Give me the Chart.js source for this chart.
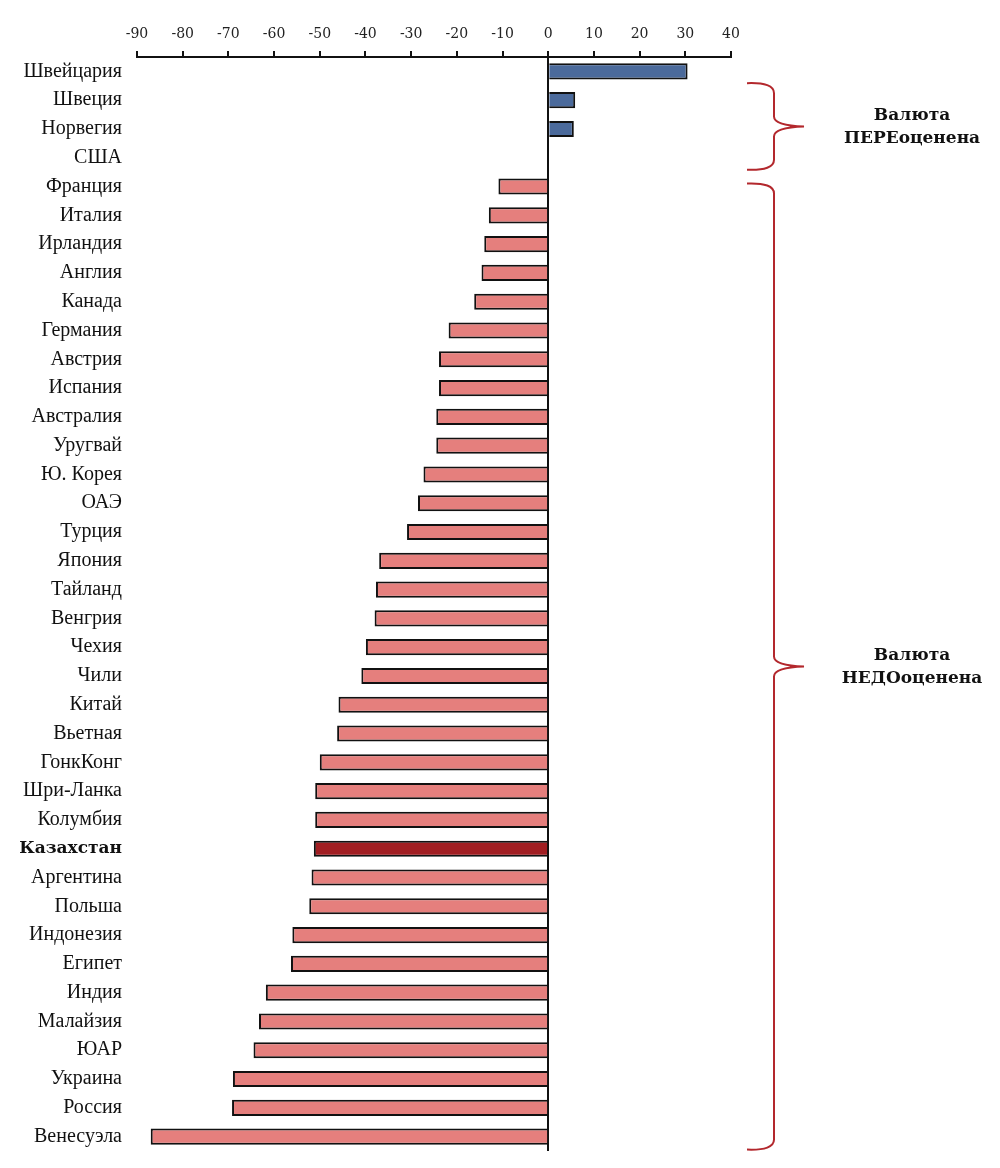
<!DOCTYPE html>
<html>
<head>
<meta charset="utf-8">
<script src="https://cdn.jsdelivr.net/npm/chart.js@4"></script>
<style>
  html, body { margin: 0; padding: 0; background: #fff; }
  #wrap { width: 1000px; height: 1168px; }
</style>
</head>
<body>
<div id="wrap"><canvas id="chart"></canvas></div>
<script>
// Data
const countries = [
    'Швейцария', 'Швеция', 'Норвегия', 'США', 'Франция', 'Италия', 'Ирландия',
    'Англия', 'Канада', 'Германия', 'Австрия', 'Испания', 'Австралия', 'Уругвай',
    'Ю. Корея', 'ОАЭ', 'Турция', 'Япония', 'Тайланд', 'Венгрия', 'Чехия', 'Чили',
    'Китай', 'Вьетная', 'ГонкКонг', 'Шри-Ланка', 'Колумбия', 'Казахстан',
    'Аргентина', 'Польша', 'Индонезия', 'Египет', 'Индия', 'Малайзия', 'ЮАР',
    'Украина', 'Россия', 'Венесуэла'
];
const valuation = [
    30.5, 5.9, 5.6, 0, -10.9, -13.0, -14.0,
    -14.6, -16.2, -21.8, -23.9, -23.9, -24.5, -24.5,
    -27.3, -28.5, -30.9, -37.0, -37.7, -38.0, -39.9, -40.9,
    -45.9, -46.2, -50.0, -51.0, -51.0, -51.3,
    -51.8, -52.3, -56.0, -56.3, -61.8, -63.3, -64.5,
    -69.0, -69.2, -87.0
];
const xTickValues = [-90, -80, -70, -60, -50, -40, -30, -20, -10, 0, 10, 20, 30, 40];
const highlight = 'Казахстан';

// bracket groups: first/last category index they cover
const groupLabels = [['Валюта', 'ПЕРЕоценена'], ['Валюта', 'НЕДОоценена']];
const groupFrom = [1, 4];
const groupTo = [3, 37];

const colors = {
    over: '#4B6A9B',
    under: '#E57F7D',
    mark: '#A11E22',
    brace: '#B3282D'
};

const braces = {
    id: 'braces',
    afterDraw(chart) {
        const { ctx, chartArea, scales } = chart;
        const y = scales.y;
        const x0 = chartArea.right + 16, x1 = chartArea.right + 43, x2 = chartArea.right + 73;
        ctx.save();
        groupLabels.forEach((lines, i) => {
            const top = y.getPixelForValue(groupFrom[i]) - (i === 0 ? 17 : 3);
            const bot = y.getPixelForValue(groupTo[i]) + (i === 0 ? 12 : 13);
            const mid = (top + bot) / 2;
            ctx.strokeStyle = colors.brace;
            ctx.lineWidth = 2;
            ctx.beginPath();
            ctx.moveTo(x0, top);
            ctx.quadraticCurveTo(x1, top - 1, x1, top + 10);
            ctx.lineTo(x1, mid - 10);
            ctx.quadraticCurveTo(x1, mid - 1, x2, mid);
            ctx.quadraticCurveTo(x1, mid + 1, x1, mid + 10);
            ctx.lineTo(x1, bot - 10);
            ctx.quadraticCurveTo(x1, bot + 1, x0, bot);
            ctx.stroke();

            ctx.fillStyle = '#111';
            ctx.font = 'bold 17px "DejaVu Serif"';
            ctx.textAlign = 'center';
            ctx.textBaseline = 'middle';
            ctx.fillText(lines[0], chartArea.right + 181, mid - 11);
            ctx.fillText(lines[1], chartArea.right + 181, mid + 12);
        });
        ctx.restore();
    }
};

new Chart(document.getElementById('chart'), {
    type: 'bar',
    data: {
        labels: countries,
        datasets: [{
            data: valuation,
            backgroundColor: c => countries[c.dataIndex] === highlight ? colors.mark
                : (c.raw > 0 ? colors.over : colors.under),
            borderColor: '#111',
            borderWidth: 2,
            barPercentage: 0.56,
            categoryPercentage: 1
        }]
    },
    options: {
        indexAxis: 'y',
        responsive: true,
        maintainAspectRatio: false,
        animation: false,
        layout: { padding: { top: 0, right: 269, bottom: 17, left: 0 } },
        plugins: {
            legend: { display: false },
            tooltip: { enabled: false }
        },
        scales: {
            x: {
                position: 'top',
                min: -90,
                max: 40,
                afterBuildTicks: s => { s.ticks = xTickValues.map(v => ({ value: v })); },
                afterFit: s => { s.height = 57; },
                border: { display: true, color: '#111', width: 2 },
                grid: {
                    drawOnChartArea: true,
                    color: c => (c.tick && c.tick.value === 0 ? '#111' : 'rgba(0,0,0,0)'),
                    lineWidth: 2,
                    tickColor: '#111',
                    tickLength: 6,
                    tickWidth: 2
                },
                ticks: {
                    padding: 8,
                    maxRotation: 0,
                    color: '#222',
                    font: { family: '"DejaVu Serif"', size: 14 }
                }
            },
            y: {
                afterFit: s => {
                    s.width = 137;
                    // labels sit inside their bands, no extra room needed
                    s.paddingTop = 0;
                    s.paddingBottom = 0;
                },
                border: { display: false },
                grid: { display: false, drawTicks: false },
                ticks: {
                    padding: 15,
                    autoSkip: false,
                    color: '#111',
                    font: c => (countries[c.index] === highlight
                        ? { family: '"DejaVu Serif"', size: 17, weight: 'bold' }
                        : { family: '"Liberation Serif"', size: 20 })
                }
            }
        }
    },
    plugins: [braces]
});
</script>
</body>
</html>
